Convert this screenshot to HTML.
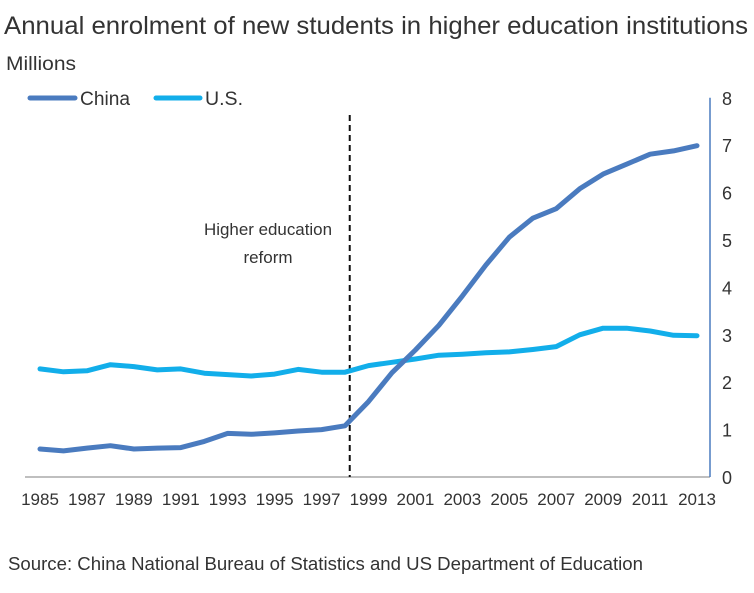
<!DOCTYPE html>
<html><head><meta charset="utf-8"><style>
body{margin:0;background:#fff;font-family:"Liberation Sans",sans-serif;}
svg text{font-family:"Liberation Sans",sans-serif;fill:#333;}
</style></head><body>
<svg width="754" height="588" viewBox="0 0 754 588">
<text x="4" y="34" font-size="25" textLength="744" lengthAdjust="spacingAndGlyphs">Annual enrolment of new students in higher education institutions</text>
<text x="6" y="70" font-size="19" textLength="70" lengthAdjust="spacingAndGlyphs">Millions</text>
<g>
<line x1="30" y1="98" x2="75" y2="98" stroke="#4a7bbf" stroke-width="5" stroke-linecap="round"/>
<text x="80" y="105" font-size="19" textLength="50" lengthAdjust="spacingAndGlyphs">China</text>
<line x1="156" y1="98" x2="200" y2="98" stroke="#12aeea" stroke-width="5" stroke-linecap="round"/>
<text x="205" y="105" font-size="19" textLength="38" lengthAdjust="spacingAndGlyphs">U.S.</text>
</g>
<g id="axes"></g>
<g id="marks"></g>
<text x="268" y="235" font-size="17" text-anchor="middle" textLength="128" lengthAdjust="spacingAndGlyphs">Higher education</text>
<text x="268" y="263" font-size="17" text-anchor="middle">reform</text>
<text x="8" y="570" font-size="18" textLength="635" lengthAdjust="spacingAndGlyphs">Source: China National Bureau of Statistics and US Department of Education</text>
</svg>
<script>
const years=[1985,1986,1987,1988,1989,1990,1991,1992,1993,1994,1995,1996,1997,1998,1999,2000,2001,2002,2003,2004,2005,2006,2007,2008,2009,2010,2011,2012,2013];
const china=[0.59,0.55,0.61,0.66,0.59,0.61,0.62,0.75,0.92,0.90,0.93,0.97,1.0,1.08,1.59,2.2,2.68,3.2,3.82,4.47,5.06,5.46,5.66,6.08,6.39,6.6,6.81,6.88,6.99];
const us=[2.28,2.22,2.24,2.37,2.33,2.26,2.28,2.19,2.16,2.13,2.17,2.27,2.21,2.21,2.35,2.42,2.49,2.57,2.59,2.62,2.64,2.69,2.75,3.0,3.14,3.14,3.08,2.99,2.98];
const yTicks=[0,1,2,3,4,5,6,7,8];
const xTickYears=[1985,1987,1989,1991,1993,1995,1997,1999,2001,2003,2005,2007,2009,2011,2013];
const reformYear=1998.2;
const NS='http://www.w3.org/2000/svg';
const x=v=>40+(v-1985)*(657/28);
const y=v=>477-v*47.4;
function mk(tag,attrs,parent){const e=document.createElementNS(NS,tag);for(const k in attrs)e.setAttribute(k,attrs[k]);parent.appendChild(e);return e;}
const axes=document.getElementById('axes'),marks=document.getElementById('marks');
let el=mk('line',{x1:25,y1:477,x2:710,y2:477,stroke:'#aaa','stroke-width':1.5},axes);


el=mk('line',{x1:710,y1:y(8),x2:710,y2:477,stroke:'#4a7bbf','stroke-width':1.5},axes);


yTicks.forEach(t=>{const e=mk('text',{x:722,y:y(t)+7,'font-size':18},axes);e.textContent=t;

});
xTickYears.forEach(t=>{const e=mk('text',{x:x(t),y:505,'font-size':17,'text-anchor':'middle'},axes);e.textContent=t;

});
el=mk('line',{x1:x(reformYear),y1:115,x2:x(reformYear),y2:477,stroke:'#111','stroke-width':2,'stroke-dasharray':'6,4'},marks);


function series(vals,color,name){const p=vals.map((v,i)=>(i?'L':'M')+x(years[i]).toFixed(1)+','+y(v).toFixed(1)).join('');
const e=mk('path',{d:p,fill:'none',stroke:color,'stroke-width':5,'stroke-linejoin':'round','stroke-linecap':'round'},marks);

}
series(us,'#12aeea','us-line');
series(china,'#4a7bbf','china-line');
</script>
</body></html>
